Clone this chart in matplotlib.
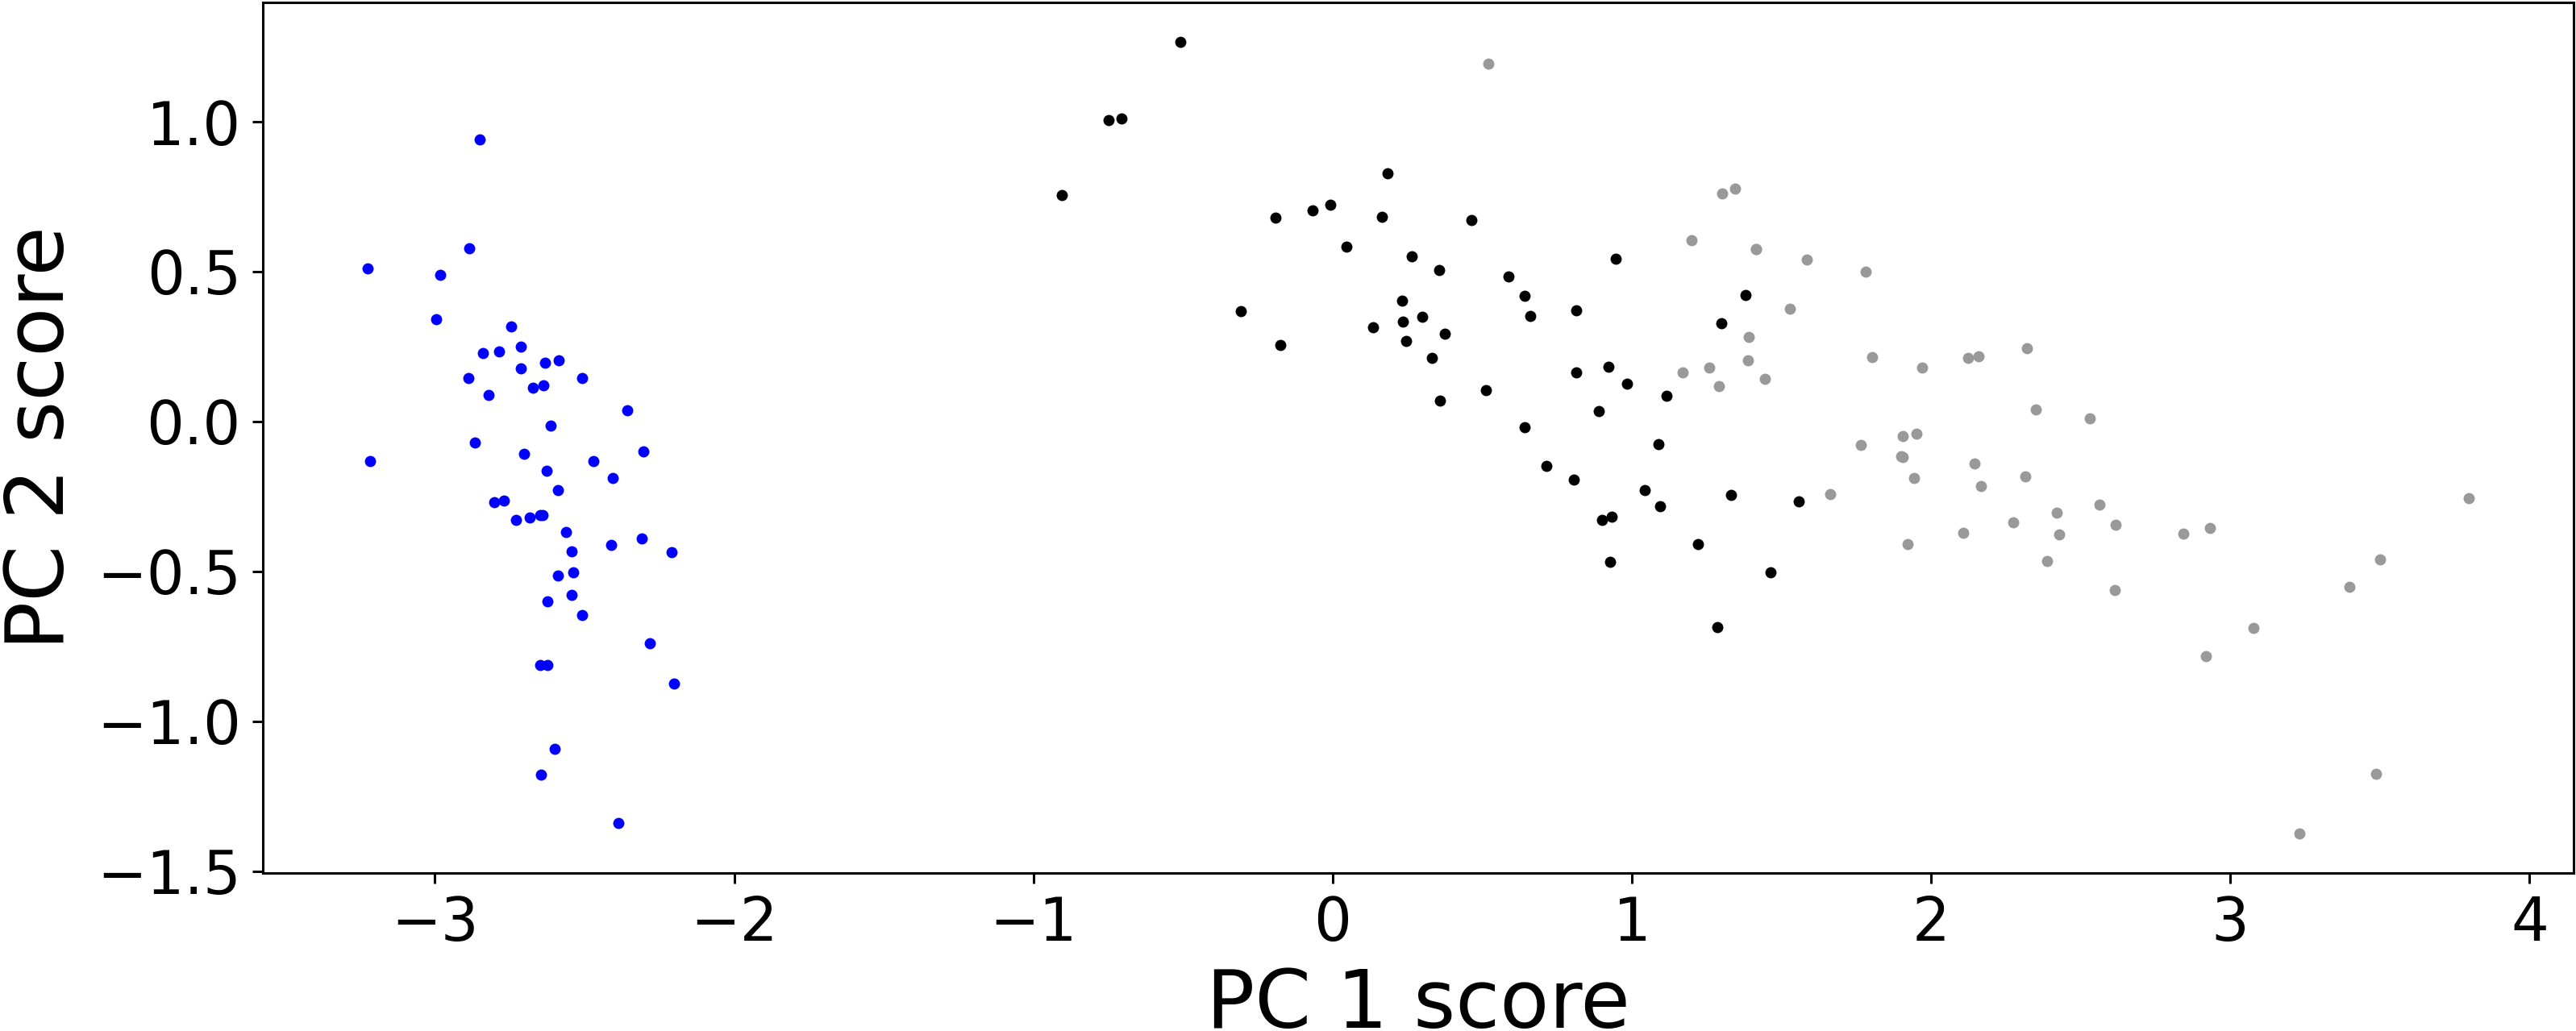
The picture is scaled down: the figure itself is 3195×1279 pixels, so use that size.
import matplotlib
matplotlib.use("Agg")
import matplotlib.pyplot as plt

# PC scores (PC1, PC2) per group
setosa_pc1 = [-2.684, -2.714, -2.889, -2.745, -2.729, -2.281, -2.821, -2.626, -2.886, -2.673,
              -2.507, -2.613, -2.786, -3.224, -2.645, -2.386, -2.624, -2.648, -2.200, -2.588,
              -2.310, -2.544, -3.216, -2.303, -2.356, -2.507, -2.469, -2.562, -2.640, -2.632,
              -2.587, -2.410, -2.649, -2.599, -2.637, -2.866, -2.625, -2.801, -2.981, -2.590,
              -2.770, -2.849, -2.997, -2.406, -2.209, -2.714, -2.538, -2.839, -2.543, -2.703]
setosa_pc2 = [-0.319, 0.177, 0.145, 0.318, -0.327, -0.741, 0.089, -0.163, 0.578, 0.114,
              -0.645, -0.015, 0.235, 0.511, -1.179, -1.338, -0.811, -0.312, -0.873, -0.514,
              -0.391, -0.433, -0.133, -0.099, 0.037, 0.146, -0.131, -0.368, -0.312, 0.197,
              0.204, -0.411, -0.813, -1.093, 0.121, -0.069, -0.599, -0.269, 0.488, -0.229,
              -0.264, 0.941, 0.342, -0.189, -0.437, 0.250, -0.504, 0.228, -0.579, -0.108]

versicolor_pc1 = [1.285, 0.932, 1.464, 0.183, 1.088, 0.642, 1.095, -0.749, 1.044, -0.009,
                  -0.508, 0.512, 0.265, 0.985, -0.174, 0.928, 0.660, 0.236, 0.945, 0.045,
                  1.116, 0.358, 1.298, 0.922, 0.715, 0.900, 1.332, 1.558, 0.813, -0.306,
                  -0.068, -0.190, 0.136, 1.380, 0.588, 0.807, 1.221, 0.815, 0.246, 0.166,
                  0.465, 0.890, 0.231, -0.705, 0.357, 0.332, 0.376, 0.643, -0.906, 0.299]
versicolor_pc2 = [-0.685, -0.318, -0.504, 0.828, -0.075, 0.418, -0.283, 1.005, -0.228, 0.723,
                  1.266, 0.104, 0.550, 0.125, 0.255, -0.467, 0.353, 0.334, 0.543, 0.584,
                  0.085, 0.069, 0.328, 0.183, -0.149, -0.329, -0.244, -0.267, 0.163, 0.368,
                  0.705, 0.680, 0.314, 0.421, 0.484, -0.194, -0.408, 0.372, 0.269, 0.682,
                  0.671, 0.034, 0.404, 1.012, 0.505, 0.213, 0.293, -0.018, 0.756, 0.349]

virginica_pc1 = [2.531, 1.414, 2.617, 1.971, 2.350, 3.397, 0.521, 2.933, 2.321, 2.918,
                 1.662, 1.803, 2.166, 1.344, 1.586, 1.904, 1.950, 3.487, 3.796, 1.301,
                 2.428, 1.199, 3.500, 1.389, 2.275, 2.614, 1.259, 1.291, 2.124, 2.388,
                 2.842, 3.231, 2.159, 1.444, 1.781, 3.077, 2.144, 1.905, 1.169, 2.108,
                 2.314, 1.922, 1.414, 2.563, 2.419, 1.944, 1.527, 1.764, 1.901, 1.390]
virginica_pc2 = [0.010, 0.575, -0.344, 0.180, 0.040, -0.551, 1.193, -0.356, 0.244, -0.783,
                 -0.242, 0.216, -0.216, 0.777, 0.540, -0.119, -0.041, -1.176, -0.257, 0.761,
                 -0.378, 0.606, -0.461, 0.204, -0.335, -0.561, 0.180, 0.117, 0.211, -0.465,
                 -0.375, -1.374, 0.217, 0.143, 0.500, -0.688, -0.140, -0.049, 0.165, -0.372,
                 -0.184, -0.409, 0.575, -0.278, -0.305, -0.188, 0.375, -0.079, -0.117, 0.283]

W, H, DPI = 3195, 1279, 100
fig = plt.figure(figsize=(W / DPI, H / DPI), dpi=DPI)
ax = fig.add_axes([326 / W, (H - 1083) / H, (3192 - 326) / W, (1083 - 3) / H])

msize = 100
ax.scatter(setosa_pc1, setosa_pc2, s=msize, c="blue", linewidths=0)
ax.scatter(versicolor_pc1, versicolor_pc2, s=msize, c="black", linewidths=0)
ax.scatter(virginica_pc1, virginica_pc2, s=msize, c="0.6", linewidths=0)

ax.set_xlabel("PC 1 score", fontsize=72, labelpad=11)
ax.set_ylabel("PC 2 score", fontsize=72, labelpad=14)
ax.tick_params(axis="both", labelsize=53, length=9.6, width=2.2, pad=10)
for sp in ax.spines.values():
    sp.set_linewidth(2.2)

fig.savefig("out.png", dpi=DPI)
